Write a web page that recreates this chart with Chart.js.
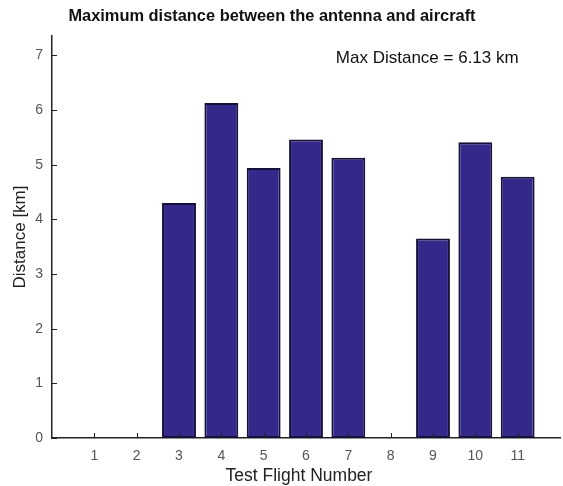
<!DOCTYPE html>
<html>
<head>
<meta charset="utf-8">
<script src="https://cdn.jsdelivr.net/npm/chart.js@4.4.1/dist/chart.umd.min.js"></script>
<style>
  body { margin: 0; background: #fff; }
</style>
</head>
<body>
<canvas id="flightChart" width="563" height="486"></canvas>
<script>
// Numéros des vols d'essai et distance max mesurée (km) ; null = pas de mesure
const flightNumbers = [1, 2, 3, 4, 5, 6, 7, 8, 9, 10, 11];
const maxDistances = [null, null, 4.30, 6.13, 4.94, 5.46, 5.13, null, 3.65, 5.41, 4.78];
const yTickValues = [0, 1, 2, 3, 4, 5, 6, 7];

const chartTitle = "Maximum distance between the antenna and aircraft";
const fontFamily = "Arial, 'Liberation Sans', sans-serif";
const barFill = "#34298a";
const barBorder = "#14113a";
const axisColor = "#222";
const tickColor = "#555";

// Titre, graduations intérieures et annotation du maximum
const chartDecor = {
  id: "chartDecor",
  afterDraw(chart) {
    const { ctx, chartArea, scales } = chart;
    ctx.save();

    ctx.fillStyle = "#111";
    ctx.font = `bold 16.4px ${fontFamily}`;
    ctx.textAlign = "center";
    ctx.textBaseline = "middle";
    ctx.fillText(chartTitle, 272, 16);

    ctx.strokeStyle = axisColor;
    ctx.lineWidth = 1;
    ctx.beginPath();
    flightNumbers.forEach((n) => {
      const px = Math.round(scales.x.getPixelForValue(n)) + 0.5;
      ctx.moveTo(px, chartArea.bottom);
      ctx.lineTo(px, chartArea.bottom - 5);
    });
    yTickValues.forEach((v) => {
      const py = Math.round(scales.y.getPixelForValue(v)) + 0.5;
      ctx.moveTo(chartArea.left, py);
      ctx.lineTo(chartArea.left + 5, py);
    });
    ctx.stroke();

    const maxValue = Math.max(...maxDistances.filter((d) => d !== null));
    ctx.font = `17px ${fontFamily}`;
    ctx.textAlign = "right";
    ctx.fillText(`Max Distance = ${maxValue.toFixed(2)} km`, scales.x.getPixelForValue(11) + 1, 58);

    // Titre de l'axe X, légèrement décalé à gauche du centre de l'axe
    ctx.fillStyle = "#222";
    ctx.font = `17.5px ${fontFamily}`;
    ctx.textAlign = "center";
    ctx.fillText("Test Flight Number", 299, 476);
    ctx.restore();
  },
};

new Chart(document.getElementById("flightChart"), {
  type: "bar",
  data: {
    datasets: [
      {
        data: flightNumbers.map((n, i) => ({ x: n, y: maxDistances[i] })),
        backgroundColor: barFill,
        borderColor: barBorder,
        borderWidth: 2,
        borderSkipped: false,
        barPercentage: 0.8,
        categoryPercentage: 1,
      },
    ],
  },
  options: {
    responsive: false,
    animation: false,
    layout: { padding: { top: 36, right: 3 } },
    plugins: {
      legend: { display: false },
      tooltip: { enabled: false },
      title: { display: false },
    },
    scales: {
      x: {
        type: "linear",
        min: 0,
        max: 12,
        offset: false,
        grid: { display: false, offset: false },
        border: { display: true, color: axisColor, width: 1.5 },
        ticks: {
          stepSize: 1,
          color: tickColor,
          font: { family: fontFamily, size: 14 },
          padding: 2,
          maxRotation: 0,
          callback: (v) => (flightNumbers.includes(v) ? v : ""),
        },
        afterFit: (scale) => { scale.height = 48; },
      },
      y: {
        min: 0,
        max: 7.356,
        grid: { display: false },
        border: { display: true, color: axisColor, width: 1.5 },
        ticks: {
          stepSize: 1,
          color: tickColor,
          font: { family: fontFamily, size: 14 },
          padding: 1,
        },
        afterBuildTicks: (scale) => {
          scale.ticks = scale.ticks.filter((t) => yTickValues.includes(t.value));
        },
        title: {
          display: true,
          text: "Distance [km]",
          color: "#222",
          font: { family: fontFamily, size: 17 },
          padding: { top: 10, bottom: 0 },
        },
        afterFit: (scale) => { scale.width = 52; },
      },
    },
  },
  plugins: [chartDecor],
});
</script>
</body>
</html>
